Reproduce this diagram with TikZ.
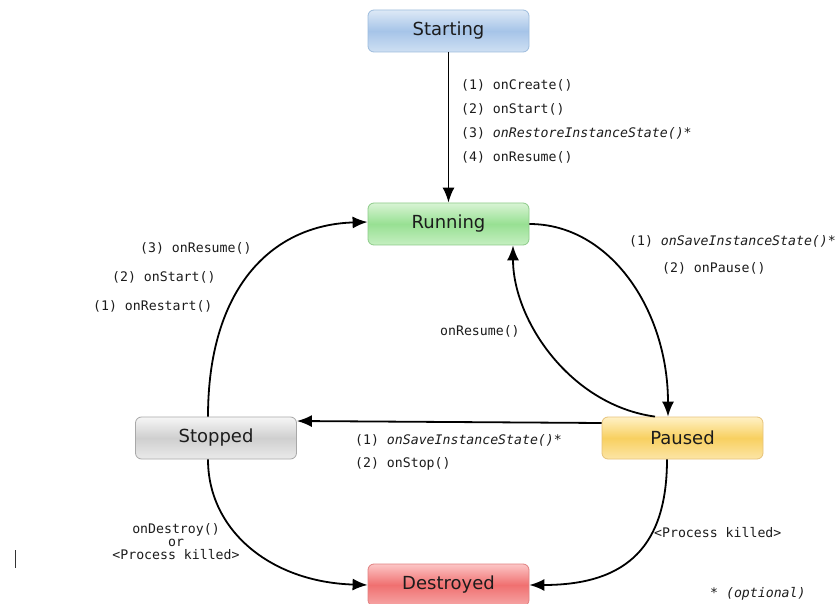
\documentclass[tikz,border=0pt]{standalone}
\usepackage{fontspec}
\setmainfont{DejaVu Sans}
\newfontfamily\monof{DejaVu Sans Mono}
\usetikzlibrary{arrows.meta}
\definecolor{txt}{HTML}{1C1C1C}
\definecolor{bT}{HTML}{DDE9F6}\definecolor{bM}{HTML}{A6C4E8}\definecolor{bB}{HTML}{CFE0F3}\definecolor{bD}{HTML}{9DBCDD}
\definecolor{gT}{HTML}{D8F4D4}\definecolor{gM}{HTML}{98E093}\definecolor{gB}{HTML}{C5EFC1}\definecolor{gD}{HTML}{8DCB89}
\definecolor{sT}{HTML}{F6F6F6}\definecolor{sM}{HTML}{CFCFCF}\definecolor{sB}{HTML}{EAEAEA}\definecolor{sD}{HTML}{A8A8A8}
\definecolor{yT}{HTML}{FFF1C6}\definecolor{yM}{HTML}{F8D060}\definecolor{yB}{HTML}{FCE5A6}\definecolor{yD}{HTML}{E6C27A}
\definecolor{rT}{HTML}{FCC6C6}\definecolor{rM}{HTML}{F07070}\definecolor{rB}{HTML}{F6A6A6}\definecolor{rD}{HTML}{E08080}
\tikzset{
  state/.style={rounded corners=6pt, minimum width=161pt, minimum height=42pt, inner sep=0pt,
    font=\fontsize{18}{20}\selectfont, text=txt, line width=0.8pt},
  blueS/.style={state, draw=bD, top color=bT, bottom color=bB, middle color=bM},
  greenS/.style={state, draw=gD, top color=gT, bottom color=gB, middle color=gM},
  grayS/.style={state, draw=sD, top color=sT, bottom color=sB, middle color=sM},
  yellowS/.style={state, draw=yD, top color=yT, bottom color=yB, middle color=yM},
  redS/.style={state, draw=rD, top color=rT, bottom color=rB, middle color=rM},
  lbl/.style={font=\monof\fontsize{13.2}{13}\selectfont, text=txt, inner sep=0pt},
  conn/.style={line width=1.8pt, -{Latex[length=15pt,width=12pt]}},
}
\begin{document}
\begin{tikzpicture}[x=1pt,y=-1pt]
\useasboundingbox[fill=white] (0,0) rectangle (839,604);

\node[blueS]   (start) at (448.5,31)  {Starting};
\node[greenS]  (run)   at (448.5,224) {Running};
\node[grayS]   (stop)  at (216,438)   {Stopped};
\node[yellowS] (pause) at (682.5,438) {Paused};
\node[redS]    (dest)  at (448.5,585) {Destroyed};

% connectors
\draw[conn] (start.south) -- (run.north);
\draw[conn] (run.east) .. controls (610,224) and (668,310) .. (pause.north -| 668,0);
\draw[conn] (pause.north -| 655,0) .. controls (570,405) and (513,320) .. (run.south -| 513,0);
\draw[conn] (pause.west |- 0,423) -- (stop.east |- 0,421);
\draw[conn] (stop.north -| 208,0) .. controls (208,290) and (270,225) .. (run.west |- 0,222);
\draw[conn] (stop.south -| 208,0) .. controls (208,530) and (270,582) .. (dest.west);
\draw[conn] (pause.south -| 667,0) .. controls (667,545) and (628,585) .. (dest.east);

% labels
\node[lbl, anchor=west] (l1) at (461,85)  {(1) onCreate()};
\node[lbl, anchor=west] (l2) at (461,109) {(2) onStart()};
\node[lbl, anchor=west] (l3) at (461,133) {(3) \textit{onRestoreInstanceState()*}};
\node[lbl, anchor=west] (l4) at (461,157) {(4) onResume()};

\node[lbl, anchor=west] (r3) at (140,248) {(3) onResume()};
\node[lbl, anchor=west] (r2) at (112,277) {(2) onStart()};
\node[lbl, anchor=west] (r1) at (93,306)  {(1) onRestart()};

\node[lbl, anchor=west] (p1) at (629,241) {(1) \textit{onSaveInstanceState()*}};
\node[lbl, anchor=west] (p2) at (662,268) {(2) onPause()};

\node[lbl, anchor=west] (res) at (440,331) {onResume()};

\node[lbl, anchor=west] (s1) at (355,440) {(1) \textit{onSaveInstanceState()*}};
\node[lbl, anchor=west] (s2) at (355,464) {(2) onStop()};

\node[lbl, align=center] (dd) at (176,542) {onDestroy()\\or\\<Process killed>};
\node[lbl, anchor=west] (pk) at (654,533) {<Process killed>};
\node[lbl, anchor=west] (opt) at (710,594) {* \textit{(optional)}};

\draw[line width=1pt, black!80] (15,550) -- (15,568);
\end{tikzpicture}
\end{document}
